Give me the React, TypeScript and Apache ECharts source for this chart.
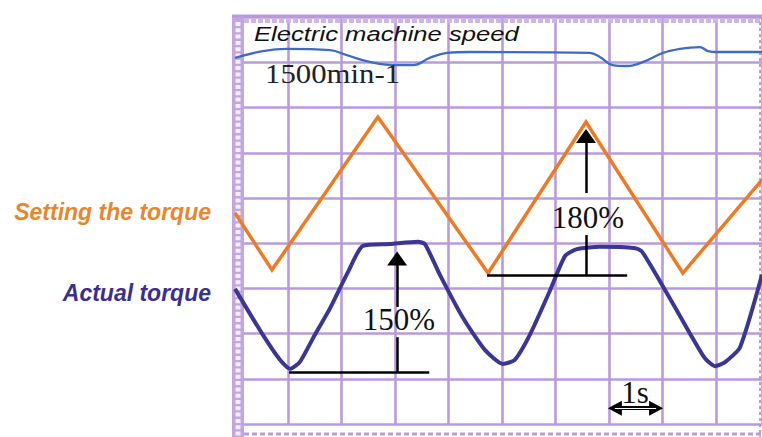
import React, { useEffect, useRef } from "react";
import * as echarts from "echarts";

// time in seconds (1 grid column = 1 s), value in grid divisions from the bottom line
const speedCurve: [number, number][] = [
  [0.01, 8.1], [0.53, 8.25], [0.98, 8.3], [1.79, 8.27], [2.1, 8.16], [2.53, 8.01],
  [2.96, 7.94], [3.34, 7.94], [3.65, 8.1], [3.97, 8.21], [4.4, 8.23], [6.64, 8.21],
  [6.83, 8.12], [7.07, 7.94], [7.34, 7.92], [7.64, 8.01], [8.01, 8.21], [8.33, 8.3],
  [8.7, 8.34], [8.85, 8.25], [9.02, 8.23], [9.86, 8.23],
];

const settingTorque: [number, number][] = [
  [0.01, 4.67], [0.7, 3.41], [2.68, 6.79], [4.74, 3.34], [6.57, 6.68], [8.38, 3.34], [9.86, 5.4],
];

const actualTorque: [number, number][] = [
  [0.01, 2.99], [0.51, 2.01], [0.85, 1.42], [1.04, 1.22], [1.22, 1.37], [1.5, 1.97],
  [1.79, 2.57], [2.12, 3.36], [2.4, 3.94], [2.91, 3.98], [3.43, 4.03], [3.56, 3.98],
  [3.84, 3.3], [4.27, 2.35], [4.68, 1.64], [5.02, 1.33], [5.24, 1.42], [5.52, 1.97],
  [5.9, 2.96], [6.18, 3.72], [6.4, 3.87], [6.83, 3.92], [7.49, 3.89], [7.62, 3.81],
  [8.08, 2.9], [8.51, 2.01], [8.79, 1.46], [8.98, 1.28], [9.17, 1.37], [9.45, 1.7],
  [9.86, 3.3],
];

// annotation geometry (data units)
const base150: [number, number][] = [[1.02, 1.15], [3.64, 1.15]];
const arrow150Low: [number, number][] = [[3.04, 1.15], [3.04, 1.92]];
const arrow150High: [number, number][] = [[3.04, 2.59], [3.04, 3.66]];
const base180: [number, number][] = [[4.72, 3.3], [7.34, 3.3]];
const arrow180Low: [number, number][] = [[6.57, 3.3], [6.57, 4.18]];
const arrow180High: [number, number][] = [[6.57, 5.11], [6.57, 6.37]];
const oneSecond: [number, number][] = [[7.11, 0.35], [7.88, 0.35]];

const X_MAX = 9.86;
const Y_MAX = 9;

const GRID = "#b99bdc";

export default function App() {
  const ref = useRef<HTMLDivElement>(null);
  useEffect(() => {
    document.body.style.margin = "0";
    if (!ref.current) return;
    const chart = echarts.init(ref.current, undefined, { renderer: "svg" });
    const seg = (p: [number, number][], endSym: string, size: number[], startSym = "none", style?: any) => {
      const pair: any[] = [
        { coord: p[0], symbol: startSym, symbolSize: size },
        { coord: p[1], symbol: endSym, symbolSize: size },
      ];
      if (style) pair[0].lineStyle = style;
      return pair;
    };
    chart.setOption({
      animation: false,
      grid: { left: 234.5, top: 17.2, width: 527.5, height: 406.8, containLabel: false },
      xAxis: {
        type: "value", min: 0, max: X_MAX, interval: 1,
        axisLine: { show: false }, axisTick: { show: false }, axisLabel: { show: false },
        splitLine: { show: true, lineStyle: { color: GRID, width: 2.6 } },
      },
      yAxis: {
        type: "value", min: 0, max: Y_MAX, interval: 1,
        axisLine: { show: false }, axisTick: { show: false }, axisLabel: { show: false },
        splitLine: { show: true, lineStyle: { color: GRID, width: 2.6 } },
      },
      series: [
        {
          type: "line", data: speedCurve, smooth: 0.4, showSymbol: false, z: 3,
          lineStyle: { color: "#3f6cc2", width: 2.3 },
        },
        {
          type: "line", data: settingTorque, showSymbol: false, z: 3,
          lineStyle: { color: "#f07a22", width: 3.5, join: "miter" },
        },
        {
          type: "line", data: actualTorque, smooth: 0.2, showSymbol: false, z: 3,
          lineStyle: { color: "#3b3594", width: 4 },
        },
        {
          type: "line", data: [], z: 4,
          markLine: {
            silent: true, animation: false,
            label: { show: false },
            lineStyle: { color: "#000", width: 2.5, type: "solid" },
            data: [
              seg(base150, "none", [1, 1]),
              seg(arrow150Low, "none", [1, 1]),
              seg(arrow150High, "triangle", [20, 14]),
              seg(base180, "none", [1, 1]),
              seg(arrow180Low, "none", [1, 1]),
              seg(arrow180High, "triangle", [20, 14]),
              seg(oneSecond, "triangle", [15, 14], "triangle", { color: "#000", width: 4 }),
              seg(oneSecond, "none", [1, 1], "none", { color: "#fff", width: 1.2 }),
            ],
          },
        },
      ],
      graphic: [
        { type: "rect", z: 1, shape: { x: 232, y: 15, width: 12, height: 422 }, style: { fill: "#c1a6e0" } },
        { type: "line", z: 1, shape: { x1: 238, y1: 22, x2: 238, y2: 437 }, style: { stroke: "#f4eefb", lineWidth: 5, lineDash: [4, 2.3] } },
        { type: "line", z: 1, shape: { x1: 232, y1: 16, x2: 762, y2: 16 }, style: { stroke: GRID, lineWidth: 3 } },
        { type: "line", z: 1, shape: { x1: 244, y1: 20.5, x2: 762, y2: 20.5 }, style: { stroke: "#cdb5e8", lineWidth: 5, lineDash: [5, 2] } },
        { type: "line", z: 1, shape: { x1: 244, y1: 434, x2: 762, y2: 434 }, style: { stroke: GRID, lineWidth: 3, lineDash: [5, 3] } },
        { type: "line", z: 1, shape: { x1: 760, y1: 16, x2: 760, y2: 437 }, style: { stroke: GRID, lineWidth: 2, lineDash: [3, 3] } },
        {
          type: "text", z: 10, x: 254, y: 34, scaleX: 1.25,
          style: { text: "Electric machine speed", font: "italic 20.5px 'Liberation Sans', Arial, sans-serif", fill: "#111", textAlign: "left", textVerticalAlign: "middle" },
        },
        {
          type: "text", z: 10, x: 265, y: 74, scaleX: 1.14,
          style: { text: "1500min-1", font: "27px 'Liberation Serif', 'Times New Roman', serif", fill: "#222", textAlign: "left", textVerticalAlign: "middle" },
        },
        {
          type: "text", z: 10, x: 211, y: 212,
          style: { text: "Setting the torque", font: "italic bold 23px 'Liberation Sans', Arial, sans-serif", fill: "#e8862c", textAlign: "right", textVerticalAlign: "middle" },
        },
        {
          type: "text", z: 10, x: 211, y: 293,
          style: { text: "Actual torque", font: "italic bold 23px 'Liberation Sans', Arial, sans-serif", fill: "#3a2e8f", textAlign: "right", textVerticalAlign: "middle" },
        },
        {
          type: "text", z: 10, x: 399, y: 319.5,
          style: { text: "150%", font: "31px 'Liberation Serif', 'Times New Roman', serif", fill: "#111", textAlign: "center", textVerticalAlign: "middle" },
        },
        {
          type: "text", z: 10, x: 588, y: 217.5,
          style: { text: "180%", font: "31px 'Liberation Serif', 'Times New Roman', serif", fill: "#111", textAlign: "center", textVerticalAlign: "middle" },
        },
        {
          type: "text", z: 10, x: 635, y: 392.5,
          style: { text: "1s", font: "31px 'Liberation Serif', 'Times New Roman', serif", fill: "#111", textAlign: "center", textVerticalAlign: "middle" },
        },
      ],
    });
    return () => chart.dispose();
  }, []);
  return <div ref={ref} style={{ width: 762, height: 437, background: "#fff" }} />;
}
